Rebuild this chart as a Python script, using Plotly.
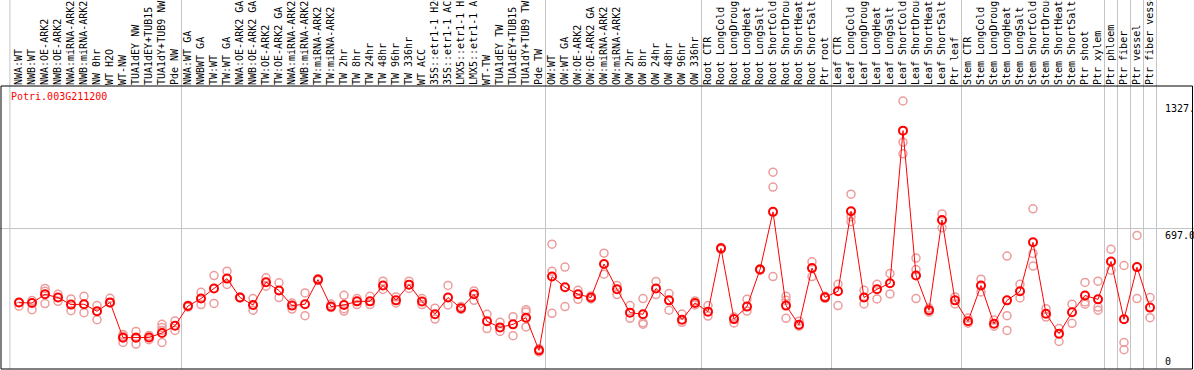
import plotly.graph_objects as go

gene = "Potri.003G211200"

categories = [
    "NWA:WT", "NWB:WT", "NWA:OE-ARK2", "NWB:OE-ARK2", "NWA:miRNA-ARK2", "NWB:miRNA-ARK2",
    "NW 0hr", "WT H2O", "WT-NW", "TUA1dEY NW", "TUA1dEY+TUB15", "TUA1dY+TUB9 NW", "Pde NW",
    "NWA:WT GA", "NWBWT GA", "TW:WT", "TW:WT GA", "NWA:OE-ARK2 GA", "NWB:OE-ARK2 GA",
    "TW:OE-ARK2", "TW:OE-ARK2 GA", "NWA:miRNA-ARK2", "NWB:miRNA-ARK2", "TW:miRNA-ARK2",
    "TW:miRNA-ARK2", "TW 2hr", "TW 8hr", "TW 24hr", "TW 48hr", "TW 96hr", "TW 336hr",
    "WT ACC", "35S::etr1-1 H2O", "35S::etr1-1 ACC", "LMX5::etr1-1 H2O", "LMX5::etr1-1 ACC",
    "WT-TW", "TUA1dEY TW", "TUA1dEY+TUB15", "TUA1dY+TUB9 TW", "Pde TW",
    "OW:WT", "OW:WT GA", "OW:OE-ARK2", "OW:OE-ARK2 GA", "OW:miRNA-ARK2", "OW:miRNA-ARK2",
    "OW 2hr", "OW 8hr", "OW 24hr", "OW 48hr", "OW 96hr", "OW 336hr",
    "Root CTR", "Root LongCold", "Root LongDrought", "Root LongHeat", "Root LongSalt",
    "Root ShortCold", "Root ShortDrought", "Root ShortHeat", "Root ShortSalt", "Ptr root",
    "Leaf CTR", "Leaf LongCold", "Leaf LongDrought", "Leaf LongHeat", "Leaf LongSalt",
    "Leaf ShortCold", "Leaf ShortDrought", "Leaf ShortHeat", "Leaf ShortSalt", "Ptr leaf",
    "Stem CTR", "Stem LongCold", "Stem LongDrought", "Stem LongHeat", "Stem LongSalt",
    "Stem ShortCold", "Stem ShortDrought", "Stem ShortHeat", "Stem ShortSalt", "Ptr shoot",
    "Ptr xylem", "Ptr phloem", "Ptr fiber", "Ptr vessel", "Ptr fiber vessel",
]

means = [
    327, 325, 368, 352, 317, 319, 284, 328, 153, 153,
    154, 176, 212, 310, 347, 397, 446, 352, 315, 428,
    387, 312, 319, 441, 307, 315, 333, 333, 412, 338,
    416, 332, 269, 352, 299, 368, 234, 204, 219, 252,
    90, 456, 403, 368, 352, 518, 393, 277, 269, 397,
    338, 242, 325, 282, 596, 245, 307, 491, 777, 312,
    217, 498, 353, 383, 780, 352, 393, 423, 1180, 461,
    289, 737, 338, 234, 412, 222, 338, 383, 626, 272,
    173, 279, 362, 343, 531, 244, 503, 302,
]

replicates = [
    [327, 309], [337, 292], [397, 383, 322], [368, 333], [345, 287], [358, 277],
    [312, 242], [348, 325], [169, 129, 160], [184, 121, 155], [164, 143],
    [219, 203, 189, 129], [236, 189], [305, 314], [378, 317], [461, 323], [483, 417],
    [350, 355], [347, 289], [450, 408], [425, 352], [325, 295], [375, 262], [445, 436],
    [320, 302], [363, 297, 285], [347, 317], [358, 317], [433, 392], [355, 325],
    [433, 397], [347, 317], [299, 245], [412, 315], [307, 293], [385, 338], [269, 198],
    [230, 184], [257, 163], [292, 280, 206], [98, 82], [617, 483, 274], [503, 307],
    [388, 343], [360, 345], [572, 468], [412, 367], [312, 249], [347, 227, 220],
    [432, 367], [372, 289], [270, 229], [335, 315], [312, 260], [600, 592], [255, 226],
    [343, 285], [495, 487], [974, 900, 456], [358, 338, 249], [235, 210], [529, 456],
    [358, 348], [418, 312], [865, 753, 728], [388, 320], [418, 345], [471, 370],
    [1327, 1123, 1065], [548, 491, 347], [300, 280], [767, 698], [355, 320], [250, 225],
    [443, 380], [240, 210], [558, 262, 189], [418, 350], [792, 571, 508], [297, 255],
    [198, 134], [319, 224], [427, 330, 319], [433, 305, 289], [591, 488], [511, 129, 93],
    [660, 347], [352, 252],
]

y_ticks = [0, 697.0, 1327.0]
# last category index of each sample group (vertical separators drawn after them)
group_ends = [12, 40, 52, 62, 72, 83, 84, 85, 86, 87]

# ---------------- layout geometry (pixels) ----------------
W, H = 1194, 370
TOP = 86            # top of plotting box
PX_ZERO = 368.5     # pixel row of value 0
PX_MID = 228.0      # pixel row of the 697 grid line
scale = (PX_ZERO - PX_MID) / y_ticks[1]
plot_h = H - TOP
y_min = (PX_ZERO - H) / scale
y_max = (PX_ZERO - TOP) / scale
x0_px, step = 19.0, 13.0
x_min = -x0_px / step
x_max = x_min + W / step
top_paper = H / plot_h  # paper-y of figure top

rx, ry = [], []
for i, reps in enumerate(replicates):
    for v in reps:
        rx.append(i)
        ry.append(v)

xs = list(range(len(categories)))

fig = go.Figure()
fig.add_trace(go.Scatter(
    x=rx, y=ry, mode="markers",
    marker=dict(symbol="circle-open", size=8, color="#EC9C9C", line=dict(width=1.5)),
    hoverinfo="skip", showlegend=False,
))
fig.add_trace(go.Scatter(
    x=xs, y=means, mode="lines+markers",
    line=dict(color="#FF0000", width=1),
    marker=dict(symbol="circle-open", size=8, color="#FF0000", line=dict(width=2)),
    showlegend=False,
))

shapes = []
# vertical group separators spanning the whole height
for g in [-0.7] + [e + 0.5 for e in group_ends]:
    shapes.append(dict(type="line", xref="x", yref="paper", x0=g, x1=g,
                       y0=1.0 / plot_h, y1=top_paper,
                       line=dict(color="#C4C4C4", width=1), layer="below"))
# plotting box
shapes.append(dict(type="rect", xref="paper", yref="paper",
                   x0=1.0 / W, x1=1192.5 / W, y0=(H - 369) / plot_h, y1=1,
                   line=dict(color="black", width=1), fillcolor="rgba(0,0,0,0)"))

annotations = [dict(
    text=gene, xref="paper", yref="paper", x=9.0 / W, y=(H - 97) / plot_h,
    xanchor="left", yanchor="middle", showarrow=False,
    font=dict(family="DejaVu Sans Mono", size=10, color="#FF0000"),
)]
for v in y_ticks:
    annotations.append(dict(
        text="0" if v == 0 else f"{v:.1f}", xref="paper", yref="y",
        x=1163.0 / W, y=v, xanchor="left", yanchor="bottom" if v == 0 else "top",
        showarrow=False, font=dict(family="DejaVu Sans Mono", size=10, color="black"),
    ))

fig.update_layout(
    width=W, height=H,
    margin=dict(l=0, r=0, t=TOP, b=0, pad=0, autoexpand=False),
    paper_bgcolor="white", plot_bgcolor="white",
    shapes=shapes, annotations=annotations,
    xaxis=dict(
        range=[x_min, x_max], tickmode="array", tickvals=xs, ticktext=categories,
        side="top", tickangle=-90, ticks="", showgrid=False, zeroline=False,
        showline=False, ticklabelstandoff=0, automargin=False,
        tickfont=dict(family="DejaVu Sans Mono", size=10, color="black"),
    ),
    yaxis=dict(
        range=[y_min, y_max], tickmode="array", tickvals=[y_ticks[1]],
        showticklabels=False, showgrid=True, gridcolor="#C4C4C4", gridwidth=1,
        zeroline=False, showline=False, ticks="", automargin=False,
    ),
)

fig.write_html(
    "out.html",
    config={"displayModeBar": False},
    post_script="document.body.style.margin='0px';document.body.style.overflow='hidden';",
)
